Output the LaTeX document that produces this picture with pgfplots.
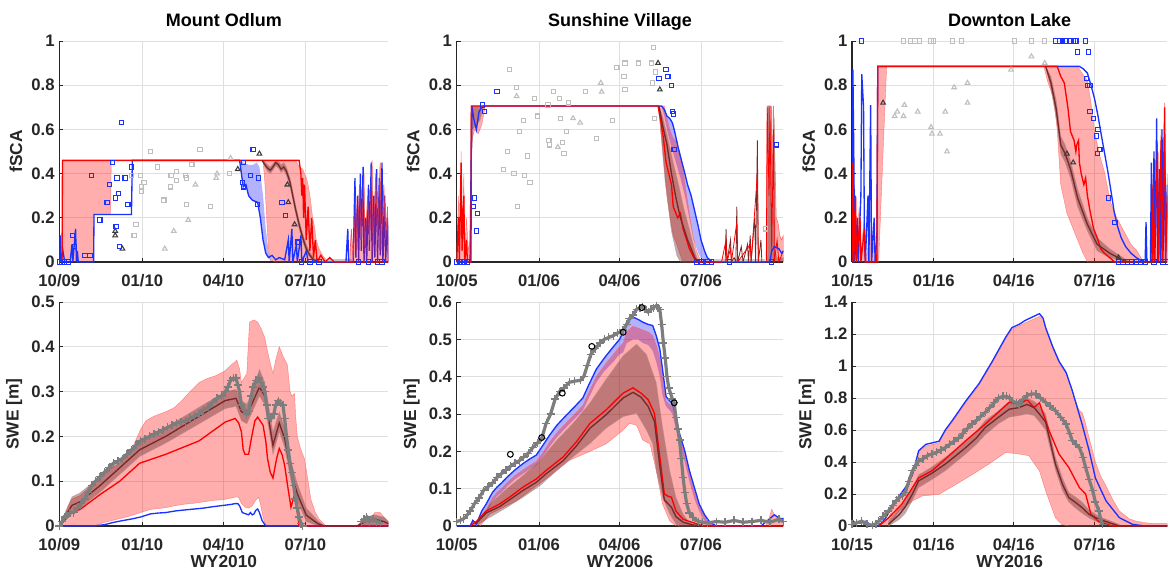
\documentclass[border=0pt]{standalone}
\usepackage{fontspec}
\setmainfont{Liberation Sans}
\usepackage{pgfplots}
\pgfplotsset{compat=1.18}

\definecolor{axc}{RGB}{38,38,38}
\definecolor{mblue}{RGB}{25,50,255}
\definecolor{mred}{RGB}{255,0,0}
\definecolor{mbrown}{RGB}{120,40,40}
\definecolor{bandbrown}{RGB}{100,40,40}
\definecolor{lgray}{RGB}{190,190,190}
\definecolor{dgray}{RGB}{60,60,60}
\definecolor{pgray}{RGB}{125,125,125}

\pgfplotsset{
  pan/.style={
    scale only axis, xmin=0, xmax=365,
    axis x line*=bottom, axis y line*=left,
    axis line style={draw=axc, line width=0.9pt},
    every tick/.style={draw=axc, line width=0.7pt},
    tick align=inside, major tick length=3pt,
    grid=major, grid style={draw=gray!25, line width=0.5pt},
    xtick={0,92,182,273},
    tick label style={font=\fontsize{12.5}{14}\selectfont\bfseries, text=axc},
    xticklabel style={yshift=-6pt},
    label style={font=\fontsize{13}{15}\selectfont\bfseries, text=axc},
    xlabel style={yshift=3.5pt},
    title style={font=\fontsize{13.5}{16}\selectfont\bfseries, at={(0.5,1)}, anchor=base, yshift=5pt},
    /pgf/number format/assume math mode=true,
  },
  topp/.style={height=165.75pt, ymin=0, ymax=1, ytick={0,0.2,0.4,0.6,0.8,1}, ylabel={fSCA}},
  botp/.style={height=168pt, ylabel={SWE [m]}},
  bsq/.style={only marks, mark=square, mark size=1.6pt, mark options={draw=mblue, line width=0.8pt}},
  gsq/.style={only marks, mark=square, mark size=1.6pt, mark options={draw=lgray, line width=0.8pt}},
  gtri/.style={only marks, mark=triangle, mark size=2pt, mark options={draw=lgray, line width=0.8pt}},
  dtri/.style={only marks, mark=triangle, mark size=2pt, mark options={draw=dgray, line width=0.8pt}},
  gplus/.style={draw=pgray, line width=2.4pt, mark=+, mark size=3pt, mark options={draw=pgray, line width=1pt}},
  rpoly/.style={fill=red, fill opacity=0.32, draw=red!60, draw opacity=0.8, line width=0.3pt},
  npoly/.style={fill=bandbrown, fill opacity=0.4, draw=mbrown!50, draw opacity=0.8, line width=0.3pt},
  bpoly/.style={fill=blue, fill opacity=0.3, draw=none},
  bline/.style={draw=mblue, line width=1pt},
  rline/.style={draw=mred, line width=1pt},
  nline/.style={draw=mbrown, line width=1pt},
}

\begin{document}
\begin{tikzpicture}
\useasboundingbox (0,0) rectangle (876pt,426.75pt);

%%%%%%%%%%%%%%%% Mount Odlum fSCA
\begin{axis}[pan, topp, at={(44.5pt,230.25pt)}, anchor=south west, width=246.75pt,
  xticklabels={10/09,01/10,04/10,07/10}, title={Mount Odlum}]
\addplot[gsq] coordinates {(80,0.39)(90,0.39)(91,0.34)(91,0.32)(94,0.36)(85,0.17)(83,0.12)(101,0.5)(109,0.43)(116,0.28)(123,0.34)(124,0.39)(130,0.37)(130,0.41)(140,0.39)(141,0.38)(147,0.44)(141,0.26)(156,0.51)(168,0.25)(189,0.40)};
\addplot[gtri] coordinates {(117,0.06)(127,0.14)(143,0.19)(151,0.35)(174,0.38)(175,0.40)(190,0.47)};
\addplot[dtri] coordinates {(62,0.14)(62,0.12)(70,0.06)(198,0.42)(222,0.49)(253,0.35)(254,0.27)(261,0.17)};
\addplot[bsq] coordinates {(0,0)(3,0)(6,0)(10,0)(15,0.12)(17,0.07)(28.5,0.03)(34,0.03)(36,0.39)(45,0.19)(53,0.27)(56,0.35)(59,0.45)(62,0.29)(63,0.16)(64,0.38)(66,0.31)(67,0.07)(69,0.63)(73,0.38)(76,0.26)(80,0.43)(204,0.45)(203,0.36)(204,0.34)(212,0.39)(215,0.51)(221,0.38)(220,0.26)(247,0.27)(251,0.21)(264,0.09)(269,0)(278,0)(288,0)(332,0)(343,0)(353,0)(358,0)};
% blue band
\addplot[bpoly] coordinates {(200,0.46)(204,0.45)(210,0.44)(215,0.44)(219,0.45)(222,0.43)(226,0.3)(229,0.15)(232,0.05)(235,0)
  (232,0.02)(229,0.04)(226,0.1)(223,0.2)(220,0.27)(214,0.28)(210,0.3)(207,0.35)(204,0.34)(202,0.4)};
% red band
\addplot[rpoly] coordinates {(3,0)(3.5,0.46)(262,0.46)(266,0.43)(270,0.42)(274,0.38)(276,0.35)(278,0.3)(281,0.2)(283,0.16)(285,0.1)(288,0.06)(292,0.03)(296,0.01)(300,0)
  (240,0)(234,0.01)(232,0.06)(230,0.2)(228,0.36)(226,0.46)(57.5,0.46)(57,0.215)(38.5,0.215)(38,0)};
% brown band
\addplot[npoly] coordinates {(225,0.46)(228,0.455)(231,0.44)(234,0.43)(237,0.445)(240,0.46)(243,0.455)(246,0.44)(249,0.45)(252,0.43)(256,0.38)(259,0.32)(262,0.26)(266,0.19)(270,0.13)(274,0.08)(278,0.045)(282,0.02)(288,0.005)
  (288,0)(282,0.005)(278,0.02)(274,0.045)(270,0.09)(266,0.15)(262,0.22)(259,0.28)(256,0.34)(252,0.39)(249,0.415)(246,0.405)(243,0.425)(240,0.435)(237,0.415)(234,0.4)(231,0.41)(228,0.43)};
\addplot[draw=gray!45, line width=2pt] coordinates {(290,0.006)(325,0.006)};
% lines
\addplot[bline] coordinates {(0,0)(1,0.12)(2,0)(4,0.05)(6,0)(12,0)(14,0.08)(15,0)(18,0.15)(19,0)(20,0.05)(21,0)(38,0)(38.5,0.215)(80,0.215)(81,0.46)(200,0.46)(202,0.4)(204,0.34)(207,0.35)(210,0.3)(214,0.28)(220,0.27)(223,0.2)(226,0.1)(229,0.04)(232,0.02)(236,0.03)(240,0.01)(244,0.02)(250,0.01)(254,0.1)(255,0)(258,0.15)(259,0)(263,0.08)(264,0)(268,0.12)(269,0)(274,0.05)(276,0)(318,0)(320,0.15)(321,0)(326,0)(328,0.38)(329,0.02)(331,0.3)(332,0)(334,0.4)(335,0.05)(337,0.43)(338,0)(340,0.2)(341,0)(343,0.35)(344,0.05)(346,0.45)(347,0)(349,0.3)(350,0.02)(352,0.42)(353,0)(355,0.38)(356,0.03)(358,0.45)(359,0)(361,0.3)(362,0)(364,0.2)(365,0)};
\addplot[rpoly, draw=red!80, line width=0.5pt] coordinates {(322,0)(324,0.15)(326,0.02)(329,0.3)(330,0.05)(333,0.35)(335,0.1)(338,0.4)(339,0.05)(342,0.3)(344,0.1)(347,0.46)(348,0.05)(351,0.4)(353,0.1)(356,0.45)(357,0.05)(360,0.35)(362,0.1)(364,0.25)(365,0)};
\addplot[rline] coordinates {(3,0)(3.5,0.46)(266,0.46)(268,0.4)(269,0.3)(270,0.38)(271,0.2)(272,0.35)(274,0.1)(276,0.25)(278,0.05)(280,0.2)(282,0.02)(284,0.1)(286,0)(290,0.03)(295,0)(300,0.02)(305,0)(365,0)};
\addplot[nline] coordinates {(225,0.46)(228,0.44)(231,0.425)(234,0.415)(237,0.43)(240,0.45)(243,0.44)(246,0.42)(249,0.43)(252,0.41)(256,0.36)(259,0.3)(262,0.24)(266,0.17)(270,0.11)(274,0.06)(278,0.03)(282,0.01)(288,0)};
\end{axis}

%%%%%%%%%%%%%%%% Mount Odlum SWE
\begin{axis}[pan, botp, at={(44.5pt,32.25pt)}, anchor=south west, width=246.75pt,
  ymin=0, ymax=0.5, ytick={0,0.1,0.2,0.3,0.4,0.5},
  xticklabels={10/09,01/10,04/10,07/10}, xlabel={WY2010}]
\addplot[rpoly] coordinates {(0,0)(5,0.02)(10,0.045)(14,0.06)(23,0.068)(30,0.08)(38,0.1)(45,0.11)(55,0.125)(67,0.14)(80,0.17)(90,0.215)(96,0.235)(105,0.245)(118,0.255)(128,0.265)(136,0.28)(145,0.3)(155,0.32)(165,0.33)(173,0.335)(183,0.345)(191,0.36)(197,0.37)(200,0.35)(202,0.32)(205,0.33)(208,0.34)(211,0.455)(216,0.46)(220,0.455)(224,0.44)(228,0.42)(232,0.38)(237,0.34)(240,0.37)(244,0.40)(248,0.38)(253,0.36)(256,0.3)(258,0.29)(261,0.295)(262,0.25)(264,0.2)(268,0.17)(272,0.15)(276,0.1)(279,0.06)(284,0.03)(288,0.016)(296,0)(330,0)(335,0.01)(341,0.024)(346,0.02)(350,0.03)(356,0.03)(360,0.02)(365,0.01)
  (365,0)(229,0)(226,0.02)(223,0.05)(221,0.064)(218,0.058)(214,0.045)(210,0.04)(206,0.042)(202,0.05)(199,0.064)(196,0.065)(190,0.062)(182,0.059)(170,0.057)(160,0.054)(150,0.051)(140,0.049)(130,0.046)(118,0.041)(110,0.039)(101,0.037)(90,0.03)(81,0.024)(70,0.018)(60,0.013)(50,0.008)(38,0)(0,0)};
\addplot[npoly] coordinates {(0,0)(14,0.065)(23,0.074)(45,0.11)(67,0.15)(89,0.19)(118,0.22)(155,0.265)(184,0.3)(196,0.305)(202,0.28)(208,0.272)(213,0.295)(222,0.35)(228,0.32)(237,0.21)(244,0.255)(250,0.22)(257,0.145)(264,0.095)(274,0.04)(287,0.012)(294,0)(330,0)(340,0.02)(350,0.025)(360,0.02)(365,0.01)
  (365,0)(287,0)(274,0.01)(264,0.055)(257,0.1)(250,0.175)(244,0.21)(237,0.16)(228,0.27)(222,0.29)(213,0.25)(208,0.228)(202,0.235)(196,0.267)(184,0.262)(155,0.228)(118,0.185)(89,0.155)(67,0.115)(45,0.075)(23,0.04)(14,0.03)(0,0)};
\addplot[bline] coordinates {(0,0)(38,0)(50,0.003)(60,0.008)(70,0.012)(81,0.016)(90,0.02)(101,0.027)(110,0.029)(118,0.03)(130,0.034)(140,0.036)(150,0.038)(160,0.04)(170,0.043)(182,0.046)(190,0.048)(195,0.05)(198,0.05)(200,0.045)(203,0.03)(207,0.027)(210,0.025)(212,0.03)(214,0.025)(216,0.027)(218,0.035)(220,0.038)(222,0.03)(225,0.012)(228,0.003)(230,0)(365,0)};
\addplot[rline] coordinates {(0,0)(14,0.03)(23,0.037)(45,0.07)(67,0.1)(89,0.14)(118,0.16)(155,0.19)(184,0.232)(195,0.24)(199,0.23)(202,0.21)(204,0.17)(206,0.16)(210,0.16)(213,0.195)(217,0.235)(220,0.243)(226,0.225)(229,0.19)(231,0.15)(234,0.12)(237,0.107)(241,0.15)(244,0.173)(247,0.16)(250,0.135)(254,0.08)(257,0.042)(261,0.07)(264,0.03)(266,0)(365,0)};
\addplot[nline] coordinates {(0,0)(14,0.046)(23,0.054)(45,0.09)(67,0.13)(89,0.17)(118,0.2)(155,0.245)(184,0.28)(196,0.285)(202,0.255)(208,0.25)(213,0.27)(222,0.31)(228,0.29)(237,0.18)(244,0.23)(250,0.195)(257,0.12)(264,0.072)(274,0.024)(287,0.005)(294,0)(330,0)(340,0.01)(350,0.015)(360,0.01)(365,0.005)};
\addplot[gplus] coordinates {(0,0)(3,0.01)(6,0.02)(8,0.024)(12,0.03)(16,0.03)(20,0.04)(24,0.05)(28,0.06)(32,0.075)(36,0.09)(40,0.1)(45,0.11)(50,0.12)(55,0.13)(60,0.14)(65,0.145)(70,0.15)(75,0.16)(80,0.17)(85,0.18)(90,0.19)(95,0.195)(100,0.2)(105,0.205)(110,0.21)(115,0.215)(120,0.22)(125,0.225)(130,0.23)(135,0.232)(140,0.235)(145,0.24)(150,0.245)(155,0.25)(160,0.26)(165,0.265)(170,0.275)(175,0.285)(180,0.29)(184,0.3)(187,0.31)(190,0.325)(193,0.33)(196,0.33)(198,0.315)(200,0.3)(202,0.27)(205,0.26)(208,0.25)(210,0.255)(213,0.29)(215,0.31)(218,0.325)(221,0.33)(224,0.32)(226,0.31)(228,0.3)(230,0.27)(232,0.24)(235,0.24)(238,0.25)(240,0.27)(243,0.28)(245,0.275)(248,0.27)(250,0.24)(252,0.2)(254,0.17)(256,0.14)(258,0.12)(260,0.09)(262,0.06)(264,0.04)(266,0.02)(268,0.005)(270,0)};
\addplot[gplus] coordinates {(335,0.01)(338,0.015)(341,0.02)(344,0.01)(348,0.015)(352,0.01)(356,0.008)};
\end{axis}

%%%%%%%%%%%%%%%% Sunshine Village fSCA
\begin{axis}[pan, topp, at={(342.5pt,230.25pt)}, anchor=south west, width=245pt,
  xticklabels={10/05,01/06,04/06,07/06}, title={Sunshine Village}]
\addplot[gsq] coordinates {(52,0.42)(57,0.50)(59,0.87)(64,0.40)(67,0.79)(68,0.25)(70,0.59)(75,0.64)(76,0.39)(79,0.48)(82,0.36)(87,0.74)(90,0.66)(102,0.71)(103,0.55)(104,0.53)(108,0.77)(115,0.74)(116,0.65)(118,0.54)(120,0.49)(123,0.59)(125,0.72)(144,0.77)(156,0.56)(174,0.64)(179,0.88)(187,0.84)(188,0.78)(188,0.90)(203,0.90)(218,0.90)(220,0.97)(222,0.86)(219,0.81)(221,0.65)(345,0.15)};
\addplot[gtri] coordinates {(67,0.75)(113,0.52)(130,0.65)(138,0.63)(161,0.81)(162,0.77)};
\addplot[dtri] coordinates {(225,0.90)(227,0.78)};
\addplot[bsq] coordinates {(0,0)(3,0)(6,0)(9,0)(12,0)(19,0.25)(20,0.29)(23,0.22)(22,0.14)(29,0.71)(31,0.68)(45,0.77)(226,0.83)(234,0.87)(236,0.84)(240,0.80)(241,0.68)(242,0.67)(243,0.51)(268,0)(274,0)(280,0)(285,0)(305,0)(352,0)(357,0.53)};
% blue band
\addplot[bpoly] coordinates {(229,0.706)(232,0.69)(235,0.66)(238,0.65)(241,0.63)(243,0.6)(248,0.51)(255,0.4)(258,0.35)(262,0.3)(266,0.23)(270,0.16)(273,0.1)(277,0.05)(280,0.02)(286,0)
  (275,0)(270,0.04)(265,0.1)(260,0.2)(255,0.3)(250,0.38)(245,0.45)(240,0.52)(236,0.58)(232,0.66)};
% red band
\addplot[rpoly] coordinates {(0,0)(2,0.3)(3,0.05)(5,0.5)(6,0.1)(8,0.4)(9,0.05)(11,0.2)(13,0.05)(15,0.1)(16,0.706)(232,0.706)(235,0.65)(238,0.6)(242,0.56)(245,0.55)(249,0.5)(253,0.42)(257,0.3)(260,0.22)(264,0.12)(268,0.05)(273,0)
  (253,0)(250,0.03)(246,0.08)(242,0.12)(238,0.21)(235,0.3)(231,0.47)(228,0.6)(225,0.706)(32,0.706)(28,0.62)(24,0.58)(20,0.6)(17,0.55)(16,0)};
% brown band
\addplot[npoly] coordinates {(16,0.706)(226,0.706)(230,0.66)(236,0.56)(242,0.45)(248,0.35)(254,0.24)(260,0.15)(266,0.05)(270,0)
  (250,0)(246,0.03)(240,0.14)(233,0.36)(228,0.59)(226,0.706)(32,0.706)(30,0.7)(26,0.64)(22,0.62)(18,0.6)(16,0.4)};
\addplot[draw=gray!40, line width=2pt] coordinates {(288,0.006)(345,0.006)};
% late spikes and block
\addplot[rpoly, draw=red!70, line width=0.4pt] coordinates {(346,0)(347,0.706)(350,0.706)(352,0.7)(353,0.3)(354,0.706)(356,0.4)(357,0.2)(359,0.18)(361,0.12)(363,0.1)(365,0.12)(365,0)};
\addplot[npoly] coordinates {(347,0)(347.5,0.7)(349,0.706)(351,0.6)(352,0.706)(353,0.1)(355,0.65)(356,0.05)(358,0.02)(365,0.02)(365,0)};
\addplot[nline, line width=0.6pt] coordinates {(296,0)(300,0)(301,0.15)(302,0)(306,0.1)(307,0)(310,0.02)(312,0)(313,0.25)(314,0)(318,0.07)(320,0)(325,0.08)(326,0)(328,0.12)(329,0)(333,0.2)(334,0)(336,0.55)(337,0)(340,0.1)(341,0)(345,0)};
\addplot[rline, line width=0.6pt] coordinates {(296,0)(301,0.1)(302,0)(306,0.06)(307,0)(313,0.18)(314,0)(328,0.08)(329,0)(336,0.4)(337,0)(346,0)(347,0.7)(349,0.3)(350,0.706)(352,0.05)(354,0.6)(355,0)(358,0.1)(360,0)(365,0.05)};
% lines
\addplot[bline] coordinates {(0,0)(15,0)(16,0.4)(17,0.706)(19,0.65)(22,0.6)(25,0.68)(28,0.7)(30,0.706)(229,0.706)(232,0.69)(235,0.66)(238,0.65)(241,0.63)(243,0.6)(248,0.51)(255,0.4)(258,0.35)(262,0.3)(266,0.23)(270,0.16)(273,0.1)(277,0.05)(280,0.02)(286,0)(350,0)(352,0.05)(355,0.07)(360,0.06)(363,0.04)(365,0.05)};
\addplot[rline] coordinates {(0,0)(2,0.2)(3,0)(5,0.45)(6,0.05)(8,0.3)(9,0)(11,0.1)(12,0)(16,0)(16.5,0.706)(225,0.706)(228,0.64)(231,0.56)(234,0.45)(237,0.4)(240,0.35)(242,0.25)(244,0.23)(247,0.2)(250,0.22)(253,0.15)(257,0.1)(260,0.06)(265,0.02)(268,0)(296,0)};
\addplot[nline] coordinates {(226,0.706)(230,0.62)(235,0.53)(240,0.4)(245,0.29)(250,0.2)(254,0.15)(258,0.1)(262,0.06)(266,0.02)(270,0)};
\end{axis}

%%%%%%%%%%%%%%%% Sunshine Village SWE
\begin{axis}[pan, botp, at={(342.5pt,32.25pt)}, anchor=south west, width=245pt,
  ymin=0, ymax=0.6, ytick={0,0.1,0.2,0.3,0.4,0.5,0.6},
  xticklabels={10/05,01/06,04/06,07/06}, xlabel={WY2006}]
\addplot[bpoly] coordinates {(15,0)(18,0.015)(22,0.005)(28,0.04)(33,0.059)(40,0.09)(45,0.104)(50,0.115)(56,0.13)(65,0.15)(74,0.167)(82,0.18)(89,0.19)(96,0.215)(104,0.244)(112,0.27)(123,0.298)(132,0.32)(141,0.343)(148,0.38)(156,0.42)(165,0.45)(175,0.48)(182,0.5)(186,0.52)(190,0.546)(197,0.56)(203,0.553)(208,0.546)(214,0.54)(219,0.537)(223,0.51)(227,0.474)(230,0.42)(234,0.347)(238,0.335)(241,0.33)(245,0.29)(249,0.248)(255,0.2)(260,0.149)(266,0.1)(271,0.059)(277,0.03)(283,0.01)(290,0)
  (283,0)(277,0.015)(271,0.04)(266,0.07)(260,0.12)(255,0.17)(249,0.22)(245,0.26)(241,0.3)(238,0.31)(234,0.32)(230,0.35)(227,0.4)(223,0.44)(219,0.47)(214,0.485)(208,0.49)(203,0.5)(197,0.5)(190,0.49)(186,0.465)(182,0.46)(175,0.44)(165,0.415)(156,0.385)(148,0.345)(141,0.31)(132,0.288)(123,0.266)(112,0.238)(104,0.213)(96,0.185)(89,0.163)(82,0.153)(74,0.14)(65,0.125)(56,0.105)(50,0.09)(45,0.08)(40,0.065)(33,0.035)(28,0.02)(22,0)(18,0.005)(15,0)};
\addplot[rpoly] coordinates {(15,0)(18,0.012)(22,0.003)(28,0.03)(33,0.045)(40,0.075)(45,0.09)(50,0.1)(56,0.115)(65,0.135)(74,0.15)(82,0.163)(89,0.173)(96,0.195)(104,0.225)(112,0.25)(123,0.278)(132,0.3)(141,0.323)(148,0.36)(156,0.4)(165,0.43)(175,0.46)(182,0.48)(186,0.49)(190,0.52)(197,0.535)(203,0.53)(208,0.525)(214,0.52)(219,0.51)(223,0.485)(227,0.45)(230,0.4)(234,0.335)(238,0.325)(241,0.32)(245,0.28)(249,0.24)(255,0.19)(260,0.14)(266,0.09)(271,0.052)(277,0.025)(283,0.006)(290,0)(345,0)(349,0.02)(352,0.045)(355,0.03)(360,0.02)(365,0.015)
  (365,0)(245,0)(238,0.014)(230,0.059)(223,0.149)(216,0.22)(208,0.23)(201,0.27)(193,0.275)(186,0.257)(167,0.22)(149,0.2)(126,0.176)(112,0.149)(97,0.122)(82,0.095)(67,0.068)(52,0.05)(37,0.032)(26,0)};
\addplot[npoly] coordinates {(22,0)(37,0.059)(56,0.1)(74,0.135)(93,0.176)(112,0.23)(130,0.275)(149,0.33)(167,0.393)(186,0.456)(201,0.487)(212,0.46)(223,0.384)(230,0.266)(238,0.149)(245,0.077)(253,0.032)(260,0.009)(268,0)
  (249,0)(245,0.005)(238,0.032)(230,0.077)(223,0.149)(219,0.221)(212,0.257)(201,0.302)(186,0.293)(167,0.262)(149,0.221)(130,0.185)(112,0.149)(93,0.108)(74,0.077)(56,0.05)(37,0.023)};
\addplot[bline] coordinates {(0,0)(15,0)(18,0.015)(22,0.005)(28,0.04)(33,0.059)(40,0.09)(45,0.104)(50,0.115)(56,0.13)(65,0.15)(74,0.167)(82,0.18)(89,0.19)(96,0.215)(104,0.244)(112,0.27)(123,0.298)(132,0.32)(141,0.343)(148,0.38)(156,0.42)(165,0.45)(175,0.48)(182,0.5)(186,0.52)(190,0.546)(197,0.56)(203,0.553)(208,0.546)(214,0.54)(219,0.537)(223,0.51)(227,0.474)(230,0.42)(234,0.347)(238,0.335)(241,0.33)(245,0.29)(249,0.248)(255,0.2)(260,0.149)(266,0.1)(271,0.059)(277,0.03)(283,0.01)(290,0)(340,0)(345,0.01)(350,0.02)(355,0.03)(358,0.025)(362,0.02)(365,0.02)};
\addplot[rline] coordinates {(15,0)(22,0.012)(33,0.04)(48,0.059)(59,0.077)(74,0.104)(89,0.126)(100,0.149)(119,0.185)(134,0.226)(149,0.275)(167,0.311)(186,0.356)(197,0.37)(206,0.356)(214,0.338)(221,0.302)(227,0.185)(232,0.086)(236,0.08)(240,0.077)(245,0.04)(253,0.018)(264,0.009)(275,0)(365,0)};
\addplot[nline] coordinates {(22,0.008)(33,0.035)(48,0.052)(59,0.07)(74,0.095)(89,0.117)(100,0.14)(119,0.175)(134,0.215)(149,0.262)(167,0.298)(186,0.343)(197,0.358)(206,0.345)(214,0.32)(221,0.28)(227,0.16)(232,0.07)(240,0.05)(245,0.025)(253,0.01)(264,0.003)(275,0)};
\addplot[gplus] coordinates {(0,0.012)(4,0.015)(8,0.02)(12,0.03)(15,0.04)(20,0.06)(25,0.075)(30,0.095)(35,0.105)(40,0.115)(45,0.13)(50,0.14)(55,0.15)(60,0.16)(65,0.168)(70,0.175)(75,0.185)(80,0.195)(85,0.21)(90,0.222)(95,0.235)(100,0.275)(105,0.3)(110,0.34)(115,0.36)(120,0.37)(126,0.385)(132,0.388)(138,0.39)(142,0.4)(146,0.43)(150,0.46)(155,0.475)(160,0.49)(165,0.5)(170,0.505)(175,0.51)(180,0.517)(186,0.525)(190,0.54)(193,0.555)(197,0.565)(201,0.58)(205,0.585)(208,0.587)(211,0.58)(214,0.573)(217,0.58)(220,0.585)(223,0.59)(225,0.585)(227,0.58)(229,0.54)(231,0.49)(233,0.45)(235,0.4)(237,0.37)(239,0.355)(241,0.34)(243,0.33)(245,0.29)(247,0.26)(249,0.23)(251,0.18)(253,0.13)(255,0.09)(257,0.06)(260,0.035)(264,0.023)(270,0.012)(275,0.01)(280,0.008)(290,0.012)(300,0.01)(310,0.015)(320,0.01)(330,0.012)(340,0.015)(350,0.01)(360,0.018)(365,0.012)};
\addplot[only marks, mark=o, mark size=2.2pt, mark options={draw=black, fill=white, line width=0.8pt}] coordinates {(60,0.192)(95,0.237)(118,0.356)(151,0.481)(186,0.519)(207,0.585)(243,0.33)};
\end{axis}

%%%%%%%%%%%%%%%% Downton Lake fSCA
\begin{axis}[pan, topp, at={(639pt,230.25pt)}, anchor=south west, width=236.5pt, xmax=355,
  xticklabels={10/15,01/16,04/16,07/16}, title={Downton Lake}]
\addplot[gsq] coordinates {(58,1)(66,1)(71,1)(76,1)(89,1)(92,1)(113,1)(123,1)(183,1)(202,1)(217,1)};
\addplot[gtri] coordinates {(48,0.66)(51,0.68)(58,0.66)(59,0.71)(74,0.68)(89,0.61)(90,0.58)(99,0.58)(105,0.68)(107,0.5)(115,0.79)(130,0.81)(130,0.72)(179,0.87)(202,0.93)(217,0.9)};
\addplot[dtri] coordinates {(35,0.72)(242,0.49)(249,0.45)(300,0.02)};
\addplot[bsq] coordinates {(11,1)(229,1)(234,1)(237,1)(240,1)(246,1)(249,1)(252,1)(263,1)(254,0.95)(266,0.95)(264,0.83)(265,0.8)(268,0.8)(268,0.68)(272,0.65)(277,0.6)(275,0.57)(279,0.51)(276,0.49)(289,0.29)(296,0.18)(300,0)(305,0)(310,0)(315,0)(320,0)(325,0)(330,0)(340,0)(350,0)(355,0)};
\addplot[rpoly] coordinates {(0,0)(1,0.5)(2,0.1)(3,0.35)(5,0.05)(8,0.25)(10,0.05)(14,0.2)(16,0)(20,0.15)(22,0)(25,0.1)(28,0)(28.5,0.885)(254,0.885)(258,0.86)(265,0.82)(269,0.72)(273,0.59)(279,0.48)(284,0.41)(291,0.27)(298,0.2)(306,0.14)(314,0.08)(321,0.05)(328,0)
  (265,0)(260,0.04)(254,0.1)(242,0.22)(235,0.35)(231,0.6)(227,0.74)(220,0.82)(216,0.885)(39,0.885)(36,0.6)(33,0.3)(30,0)};
\addplot[npoly] coordinates {(218,0.885)(224,0.84)(230,0.73)(235,0.57)(240,0.53)(246,0.46)(254,0.33)(265,0.2)(276,0.11)(290,0.06)(309,0.01)(315,0)
  (309,0)(290,0.02)(276,0.05)(265,0.14)(254,0.25)(246,0.38)(240,0.45)(235,0.49)(230,0.65)(224,0.78)};
\addplot[rpoly, draw=red!80, line width=0.4pt] coordinates {(336,0)(338,0.2)(339,0.4)(340,0)(343,0.3)(344,0.55)(345,0)(347,0.4)(348,0.6)(349,0.05)(351,0.5)(352,0.72)(353,0)(355,0.4)(355,0)};
\addplot[bline] coordinates {(0,0.05)(1,0.87)(2,0.5)(3,0)(6,0.2)(7,0)(10,0.3)(11,0.85)(13,0.7)(14,0.1)(15,0)(18,0.3)(19,0)(21,0.71)(22,0)(25,0.2)(26,0)(28,0.1)(29,0.885)(256,0.885)(260,0.875)(265,0.855)(269,0.8)(273,0.74)(277,0.66)(280,0.59)(284,0.5)(288,0.41)(292,0.31)(295,0.23)(299,0.16)(303,0.11)(308,0.07)(314,0.04)(320,0.02)(324,0.01)(328,0)(330,0)(331,0.18)(332,0)(336,0)(337,0.45)(338,0)(340,0.5)(341,0)(343,0.65)(344,0)(346,0.42)(347,0)(349,0.6)(350,0)(352,0.5)(353,0)(355,0.35)};
\addplot[rline] coordinates {(0,0)(1,0.45)(2,0)(4,0.3)(5,0)(9,0.2)(10,0)(14,0.15)(15,0)(28,0)(29,0.885)(231,0.885)(235,0.84)(239,0.81)(243,0.7)(246,0.59)(250,0.55)(252,0.5)(253,0.53)(255,0.55)(256,0.45)(258,0.4)(261,0.35)(263,0.38)(265,0.3)(268,0.23)(272,0.15)(276,0.11)(280,0.06)(284,0.04)(290,0.02)(296,0)(338,0)(339,0.35)(340,0)(344,0.5)(345,0)(348,0.55)(349,0)(352,0.7)(353,0)(355,0.3)};
\addplot[nline] coordinates {(218,0.885)(224,0.81)(230,0.69)(235,0.53)(240,0.49)(246,0.42)(254,0.29)(265,0.17)(276,0.08)(290,0.04)(309,0)(355,0)};
\end{axis}

%%%%%%%%%%%%%%%% Downton Lake SWE
\begin{axis}[pan, botp, at={(639pt,32.25pt)}, anchor=south west, width=236.5pt, xmax=355,
  ymin=0, ymax=1.4, ytick={0,0.2,0.4,0.6,0.8,1,1.2,1.4},
  xticklabels={10/15,01/16,04/16,07/16}, xlabel={WY2016}]
\addplot[rpoly] coordinates {(30,0)(35,0.02)(41,0.05)(49,0.15)(60,0.23)(68,0.31)(75,0.46)(83,0.5)(98,0.52)(105,0.59)(113,0.65)(128,0.77)(143,0.88)(158,1.02)(173,1.17)(180,1.23)(195,1.27)(203,1.29)(211,1.31)(215,1.3)(218,1.23)(226,1.11)(233,1.02)(241,0.95)(248,0.84)(253,0.76)(256,0.72)(259,0.71)(262,0.66)(267,0.55)(274,0.4)(280,0.31)(286,0.25)(293,0.17)(301,0.094)(312,0.045)(320,0.03)(330,0.02)(340,0.015)(355,0.015)
  (355,0)(244,0)(236,0.01)(229,0.052)(218,0.22)(211,0.345)(199,0.44)(188,0.45)(173,0.46)(154,0.387)(135,0.32)(117,0.26)(98,0.198)(79,0.188)(68,0.157)(53,0.094)(41,0)};
\addplot[npoly] coordinates {(41,0.03)(53,0.11)(60,0.16)(68,0.24)(75,0.32)(90,0.37)(105,0.43)(117,0.48)(128,0.53)(140,0.59)(150,0.66)(165,0.72)(177,0.78)(188,0.78)(197,0.8)(205,0.78)(211,0.75)(218,0.7)(229,0.43)(237,0.3)(244,0.21)(252,0.18)(259,0.15)(267,0.1)(278,0.06)(301,0.01)
  (301,0)(278,0.02)(267,0.05)(259,0.08)(252,0.11)(244,0.15)(237,0.22)(229,0.35)(218,0.6)(211,0.65)(205,0.69)(197,0.7)(188,0.69)(177,0.68)(165,0.64)(150,0.57)(140,0.51)(128,0.45)(117,0.4)(105,0.345)(90,0.29)(75,0.24)(68,0.16)(60,0.08)(53,0.04)(41,0)};
\addplot[bline] coordinates {(0,0.04)(4,0.015)(10,0.02)(15,0.03)(22,0.005)(30,0)(38,0.05)(49,0.157)(60,0.24)(68,0.32)(75,0.47)(83,0.51)(98,0.53)(105,0.6)(113,0.66)(128,0.78)(143,0.89)(158,1.03)(173,1.18)(180,1.24)(188,1.26)(195,1.285)(203,1.306)(211,1.327)(215,1.3)(218,1.24)(226,1.12)(233,1.03)(241,0.96)(248,0.846)(259,0.637)(267,0.47)(274,0.3)(286,0.157)(301,0.052)(316,0.01)(330,0)(355,0)};
\addplot[rline] coordinates {(30,0)(41,0.05)(56,0.136)(75,0.3)(90,0.345)(105,0.418)(128,0.533)(150,0.637)(177,0.773)(188,0.76)(197,0.79)(205,0.74)(211,0.77)(222,0.595)(233,0.45)(244,0.366)(256,0.24)(263,0.2)(269,0.073)(278,0.027)(293,0)(355,0)};
\addplot[nline] coordinates {(41,0.01)(53,0.07)(60,0.12)(68,0.2)(75,0.282)(90,0.33)(105,0.387)(117,0.44)(128,0.49)(140,0.55)(150,0.616)(165,0.68)(177,0.73)(188,0.74)(197,0.76)(205,0.74)(211,0.7)(218,0.65)(229,0.387)(237,0.26)(244,0.178)(252,0.146)(259,0.115)(267,0.073)(278,0.042)(301,0)(355,0)};
\addplot[gplus] coordinates {(0,0.01)(5,0.02)(11,0.03)(17,0.01)(23,0.005)(27,0.015)(30,0.03)(35,0.06)(41,0.094)(46,0.13)(50,0.16)(53,0.178)(57,0.19)(60,0.21)(64,0.28)(68,0.345)(72,0.38)(75,0.407)(80,0.42)(85,0.44)(90,0.45)(95,0.46)(100,0.475)(105,0.49)(110,0.51)(115,0.53)(120,0.55)(125,0.58)(130,0.61)(135,0.637)(140,0.66)(145,0.685)(150,0.71)(155,0.74)(160,0.77)(165,0.8)(170,0.81)(174,0.81)(177,0.8)(181,0.78)(185,0.77)(188,0.76)(192,0.79)(197,0.815)(202,0.825)(207,0.825)(212,0.8)(218,0.773)(223,0.75)(229,0.72)(235,0.68)(241,0.637)(245,0.58)(248,0.533)(252,0.51)(256,0.49)(260,0.43)(263,0.366)(267,0.29)(271,0.22)(274,0.15)(278,0.094)(280,0.04)(282,0.01)};
\end{axis}
\end{tikzpicture}
\end{document}
